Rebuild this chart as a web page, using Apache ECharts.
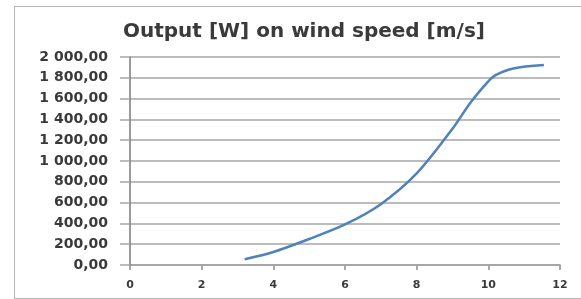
<!doctype html>
<html lang="en">
    <head>
        <meta charset="UTF-8">
        <title>Output on wind speed</title>
        <style>
            html, body { margin: 0; padding: 0; background: #fff; }
            #frame { position: absolute; left: 14px; top: 6px; width: 580px; height: 291px; border: 1.5px solid #b5b5b5; }
        </style>
    </head>
    <body>
        <div id="frame"></div>
        <div id="main" style="position:absolute;left:0;top:0;width:581px;height:299px;"></div>
        <script src="https://cdn.jsdelivr.net/npm/echarts@6/dist/echarts.min.js"></script>
        <script type="text/javascript">
        // wind speed [m/s] and output [W]
        var windSpeed = [3.2, 4, 5, 6, 7, 8, 9, 9.5, 10, 10.2, 10.7, 11.55];
        var outputW   = [55, 125, 250, 390, 585, 880, 1310, 1560, 1765, 1825, 1890, 1922];

        var xTicks = [0, 2, 4, 6, 8, 10, 12];
        var yTicks = [0, 200, 400, 600, 800, 1000, 1200, 1400, 1600, 1800, 2000];

        var myChart = echarts.init(document.getElementById('main'));

        // 2000 -> "2 000,00"
        function fmtNum(v) {
            var s = Number(v).toFixed(2).split('.');
            var intPart = s[0].replace(/\B(?=(\d{3})+(?!\d))/g, ' ');
            return intPart + ',' + s[1];
        }

        var points = windSpeed.map(function (x, i) { return [x, outputW[i]]; });

        var option = {
            animation: false,
            title: {
                text: 'Output [W] on wind speed [m/s]',
                left: 123,
                top: 22,
                padding: 0,
                textStyle: {
                    fontFamily: 'DejaVu Sans',
                    fontSize: 20,
                    fontWeight: 'bold',
                    color: '#3a3a3a'
                }
            },
            grid: {
                left: 130,
                right: 21,
                top: 57,
                bottom: 34
            },
            xAxis: {
                type: 'value',
                min: xTicks[0],
                max: xTicks[xTicks.length - 1],
                interval: xTicks[1] - xTicks[0],
                axisLine: {show: true, onZero: false, lineStyle: {color: '#8c8c8c', width: 1.5}},
                axisTick: {show: true, length: 5, lineStyle: {color: '#8c8c8c', width: 1.5}},
                splitLine: {show: false},
                axisLabel: {
                    margin: 15,
                    fontFamily: 'DejaVu Sans',
                    fontSize: 11,
                    fontWeight: 'bold',
                    color: '#3a3a3a'
                }
            },
            yAxis: {
                type: 'value',
                z: 1,
                min: yTicks[0],
                max: yTicks[yTicks.length - 1],
                interval: yTicks[1] - yTicks[0],
                axisLine: {show: true, onZero: false, lineStyle: {color: '#7a7a7a', width: 1.5}},
                axisTick: {show: true, length: 10, lineStyle: {color: '#a6a6a6', width: 1.5}},
                splitLine: {show: true, lineStyle: {color: '#a6a6a6', width: 1.5}},
                axisLabel: {
                    margin: 22,
                    fontFamily: 'DejaVu Sans',
                    fontSize: 14,
                    fontWeight: 'bold',
                    color: '#3a3a3a',
                    formatter: fmtNum
                }
            },
            series: [{
                name: 'Output',
                type: 'line',
                z: 3,
                data: points,
                smooth: 0.3,
                showSymbol: false,
                lineStyle: {color: '#4f81bd', width: 2.5}
            }]
        };

        myChart.setOption(option);
    </script>
    </body>
</html>
